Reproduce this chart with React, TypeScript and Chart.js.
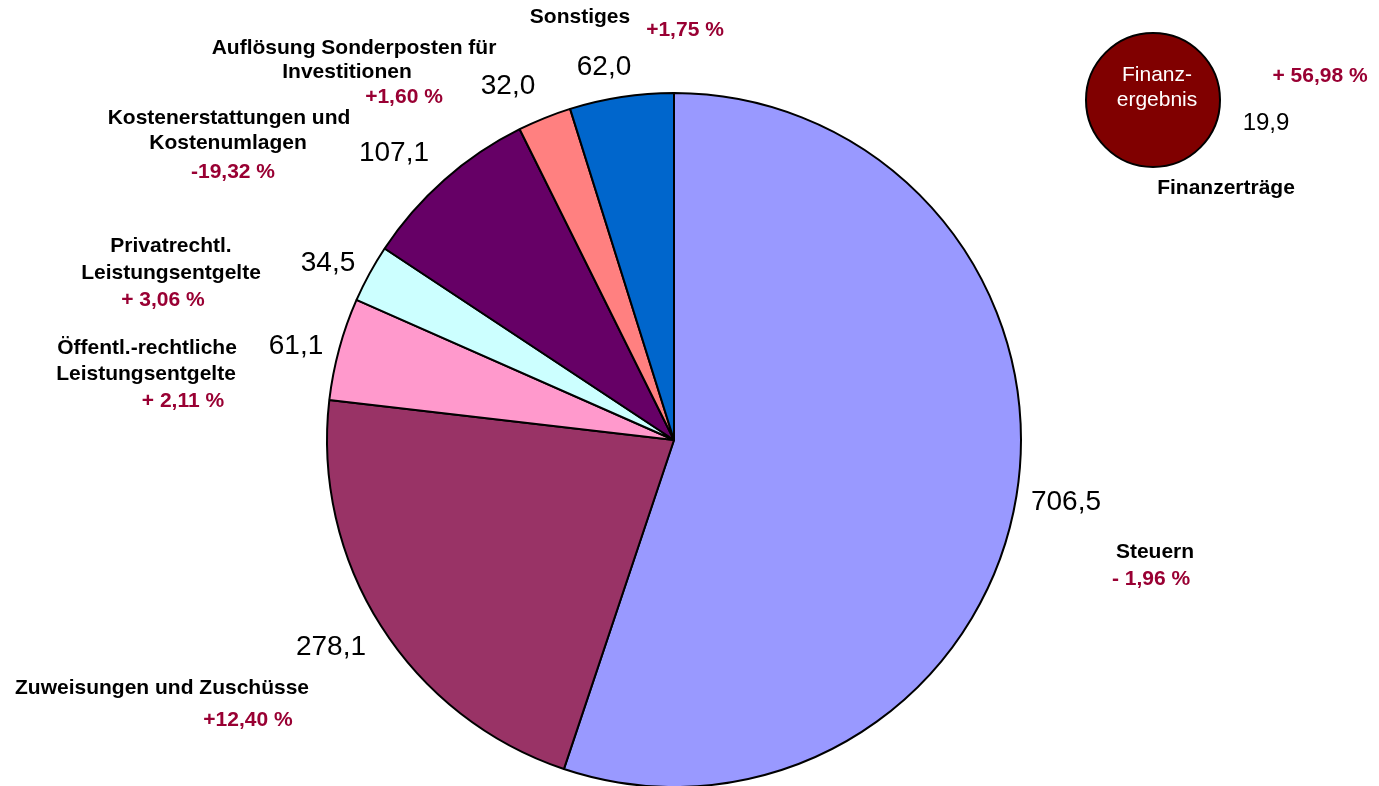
import React, { useEffect, useRef } from "react";
import { Chart, registerables } from "chart.js";

Chart.register(...registerables);

// ---------- data ----------
const categories = [
  "Steuern",
  "Zuweisungen und Zuschüsse",
  "Öffentl.-rechtliche Leistungsentgelte",
  "Privatrechtl. Leistungsentgelte",
  "Kostenerstattungen und Kostenumlagen",
  "Auflösung Sonderposten für Investitionen",
  "Sonstiges",
];
const categoryLines = [
  ["Steuern"],
  ["Zuweisungen und Zuschüsse"],
  ["Öffentl.-rechtliche", "Leistungsentgelte"],
  ["Privatrechtl.", "Leistungsentgelte"],
  ["Kostenerstattungen und", "Kostenumlagen"],
  ["Auflösung Sonderposten für", "Investitionen"],
  ["Sonstiges"],
];
const values = [706.5, 278.1, 61.1, 34.5, 107.1, 32.0, 62.0];
const changes = ["- 1,96 %", "+12,40 %", "+ 2,11 %", "+ 3,06 %", "-19,32 %", "+1,60 %", "+1,75 %"];

const finCategory = ["Finanzerträge"];
const finInnerLines = ["Finanz-", "ergebnis"];
const finValues = [19.9];
const finChanges = ["+ 56,98 %"];

// ---------- styles / layout ----------
const colors = ["#9999FF", "#993366", "#FF99CC", "#CCFFFF", "#660066", "#FF8080", "#0066CC"];
const finColor = "#800000";
const changeColor = "#990033";
const FONT = "'Liberation Sans', Arial, sans-serif";

// label positions (pixel centres) per category
const nameLayout: number[][][] = [
  [[1155, 552]],
  [[162, 688]],
  [[147, 348], [146, 374]],
  [[171, 246], [171, 273]],
  [[229, 118], [228, 143]],
  [[354, 48], [347, 72]],
  [[580, 17]],
];
const changeLayout = [
  [1151, 579],
  [248, 720],
  [183, 401],
  [163, 300],
  [233, 172],
  [404, 97],
  [685, 30],
];
const valueLayout = [
  [1066, 502],
  [331, 647],
  [296, 346],
  [328, 263],
  [394, 153],
  [508, 86],
  [604, 67],
];
const finNameLayout = [1226, 188];
const finChangeLayout = [1320, 76];
const finValueLayout = [1266, 123];

const W = 1379;
const H = 786;

const fmt = (v: number) => v.toFixed(1).replace(".", ",");

const mainLabels = {
  id: "mainLabels",
  afterDraw(chart: any) {
    const ctx = chart.ctx;
    ctx.save();
    ctx.textAlign = "center";
    ctx.textBaseline = "middle";
    values.forEach((v, i) => {
      ctx.fillStyle = "#000";
      ctx.font = `bold 21px ${FONT}`;
      categoryLines[i].forEach((line, j) => {
        const p = nameLayout[i][j];
        ctx.fillText(line, p[0], p[1]);
      });
      ctx.fillStyle = changeColor;
      ctx.fillText(changes[i], changeLayout[i][0], changeLayout[i][1]);
      ctx.fillStyle = "#000";
      ctx.font = `28px ${FONT}`;
      ctx.fillText(fmt(v), valueLayout[i][0], valueLayout[i][1]);
    });
    ctx.restore();
  },
};

const finLabels = {
  id: "finLabels",
  afterDatasetsDraw(chart: any) {
    const ctx = chart.ctx;
    const arc = chart.getDatasetMeta(0).data[0];
    ctx.save();
    // outline of the single-value circle (no radial seam)
    ctx.beginPath();
    ctx.arc(arc.x, arc.y, arc.outerRadius, 0, Math.PI * 2);
    ctx.lineWidth = 2;
    ctx.strokeStyle = "#000";
    ctx.stroke();

    ctx.textAlign = "center";
    ctx.textBaseline = "middle";
    ctx.fillStyle = "#fff";
    ctx.font = `21px ${FONT}`;
    ctx.fillText(finInnerLines[0], arc.x + 4, arc.y - 25);
    ctx.fillText(finInnerLines[1], arc.x + 4, arc.y);
    ctx.fillStyle = "#000";
    ctx.font = `bold 21px ${FONT}`;
    ctx.fillText(finCategory[0], finNameLayout[0], finNameLayout[1]);
    ctx.fillStyle = changeColor;
    ctx.fillText(finChanges[0], finChangeLayout[0], finChangeLayout[1]);
    ctx.fillStyle = "#000";
    ctx.font = `24px ${FONT}`;
    ctx.fillText(fmt(finValues[0]), finValueLayout[0], finValueLayout[1]);
    ctx.restore();
  },
};

export default function App() {
  const mainRef = useRef<HTMLCanvasElement>(null);
  const finRef = useRef<HTMLCanvasElement>(null);

  useEffect(() => {
    const main = new Chart(mainRef.current!, {
      type: "pie",
      data: {
        labels: categories,
        datasets: [
          {
            data: values,
            backgroundColor: colors,
            borderColor: "#000",
            borderWidth: 2,
            clip: false as any,
          },
        ],
      },
      options: {
        animation: false,
        responsive: false,
        radius: 347,
        layout: { padding: { left: 0, right: 31, top: 94, bottom: 0 } },
        plugins: { legend: { display: false }, tooltip: { enabled: false } },
      } as any,
      plugins: [mainLabels],
    });

    const fin = new Chart(finRef.current!, {
      type: "pie",
      data: {
        labels: finCategory,
        datasets: [
          {
            data: finValues,
            backgroundColor: [finColor],
            borderWidth: 0,
            clip: false as any,
          },
        ],
      },
      options: {
        animation: false,
        responsive: false,
        radius: 67,
        layout: { padding: { left: 927, right: 0, top: 0, bottom: 586 } },
        plugins: { legend: { display: false }, tooltip: { enabled: false } },
      } as any,
      plugins: [finLabels],
    });

    return () => {
      main.destroy();
      fin.destroy();
    };
  }, []);

  return (
    <div style={{ position: "fixed", left: 0, top: 0, width: W, height: H, background: "#fff" }}>
      <canvas ref={mainRef} width={W} height={H} style={{ position: "absolute", left: 0, top: 0 }} />
      <canvas ref={finRef} width={W} height={H} style={{ position: "absolute", left: 0, top: 0 }} />
    </div>
  );
}
